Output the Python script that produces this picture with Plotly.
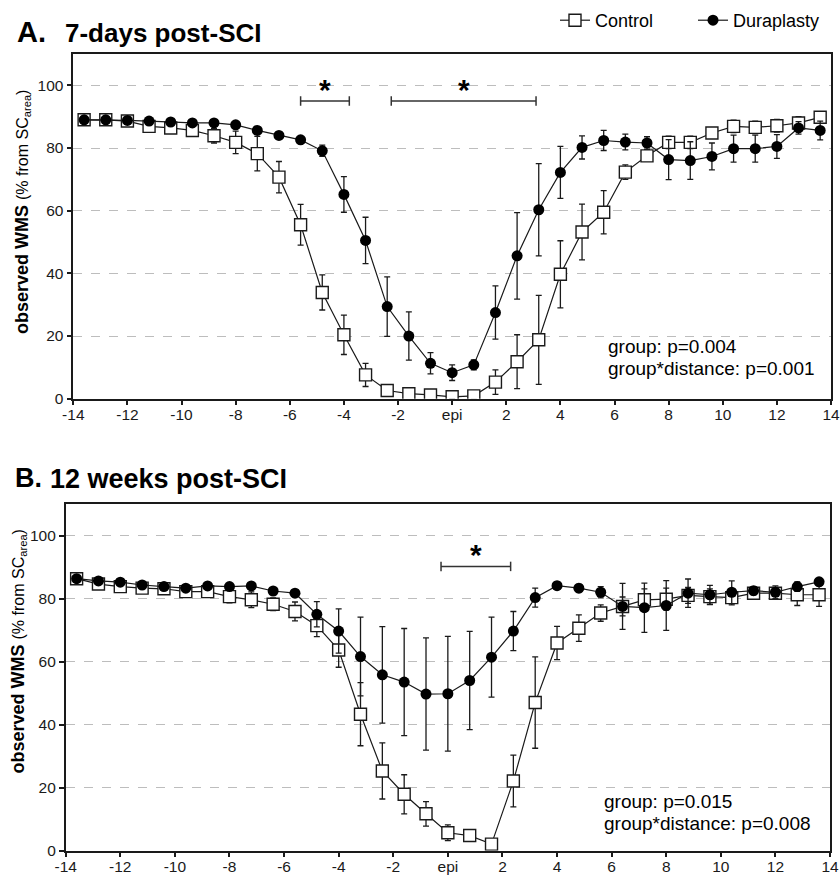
import plotly.graph_objects as go

# Distance from epicentre (mm) at which white matter sparing was measured
distance = [-13.6, -12.8, -12.0, -11.2, -10.4, -9.6, -8.8, -8.0, -7.2, -6.4, -5.6, -4.8,
            -4.0, -3.2, -2.4, -1.6, -0.8, 0.0, 0.8, 1.6, 2.4, 3.2, 4.0, 4.8, 5.6, 6.4,
            7.2, 8.0, 8.8, 9.6, 10.4, 11.2, 12.0, 12.8, 13.6]

x_tickvals = [-14, -12, -10, -8, -6, -4, -2, 0, 2, 4, 6, 8, 10, 12, 14]
x_ticktext = ["-14", "-12", "-10", "-8", "-6", "-4", "-2", "epi", "2", "4", "6", "8", "10", "12", "14"]
y_tickvals = [0, 20, 40, 60, 80, 100]

# 7 days post-SCI: mean and SEM
ctrl_7d = [89.0, 89.0, 88.6, 86.9, 86.4, 85.6, 83.9, 81.8, 78.2, 70.7, 55.5, 33.9,
           20.4, 7.6, 2.6, 1.6, 1.2, 0.6, 0.9, 5.3, 11.8, 18.8, 39.7, 53.2, 59.5, 72.3,
           77.5, 81.8, 81.8, 84.8, 86.9, 86.6, 87.1, 88.0, 89.8]
ctrl_7d_sem = [0.8, 0.8, 0.8, 1.0, 1.0, 1.2, 2.3, 3.6, 5.5, 5.0, 6.5, 5.6,
               6.3, 3.7, 1.0, 0.8, 0.6, 0.5, 0.6, 3.9, 8.6, 14.2, 10.7, 8.9, 6.9, 2.3,
               1.2, 2.0, 2.0, 1.5, 2.0, 2.0, 2.0, 2.0, 1.2]
dura_7d = [89.0, 89.0, 88.8, 88.6, 88.3, 88.0, 88.0, 87.4, 85.6, 84.0, 82.6, 79.1,
           65.2, 50.5, 29.4, 20.0, 11.3, 8.3, 10.8, 27.5, 45.6, 60.3, 72.2, 80.2, 82.4, 81.9,
           81.6, 76.3, 76.0, 77.3, 79.8, 79.8, 80.5, 86.4, 85.6]
dura_7d_sem = [0.8, 0.8, 0.8, 0.8, 0.8, 0.8, 0.8, 1.0, 1.0, 1.0, 1.0, 1.8,
               5.7, 7.4, 9.5, 7.7, 3.4, 2.5, 1.6, 8.5, 13.8, 14.7, 8.3, 3.7, 3.2, 2.5,
               2.0, 6.4, 6.0, 4.3, 4.3, 4.3, 3.8, 2.0, 3.0]

# 12 weeks post-SCI: mean and SEM
ctrl_12w = [86.3, 84.6, 83.8, 83.3, 83.1, 82.2, 82.2, 80.6, 79.6, 78.2, 75.9, 71.4,
            63.7, 43.3, 25.3, 17.9, 11.7, 5.7, 4.8, 2.1, 22.1, 47.0, 65.9, 70.6, 75.4, 77.5,
            79.6, 79.8, 81.0, 80.6, 80.3, 81.7, 81.7, 81.2, 81.2]
ctrl_12w_sem = [1.0, 1.0, 1.0, 1.0, 1.0, 1.2, 1.2, 2.0, 2.5, 2.0, 3.0, 3.5,
                5.5, 10.0, 8.9, 6.2, 3.9, 2.5, 1.5, 0.6, 8.2, 14.5, 5.3, 4.2, 2.6, 3.0,
                3.5, 3.5, 2.5, 2.5, 2.3, 1.5, 1.5, 3.4, 3.7]
dura_12w = [86.3, 85.6, 85.2, 84.3, 83.8, 83.3, 84.0, 83.8, 84.0, 82.4, 81.7, 75.0,
            69.7, 61.6, 55.8, 53.5, 49.7, 49.8, 54.0, 61.4, 69.7, 80.3, 84.1, 83.3, 82.0, 77.5,
            77.1, 77.8, 81.7, 81.2, 82.0, 82.5, 82.0, 83.8, 85.3]
dura_12w_sem = [0.8, 0.8, 0.8, 0.8, 0.8, 0.8, 0.8, 0.8, 0.8, 1.0, 1.0, 4.0,
                7.0, 12.5, 15.3, 17.0, 17.8, 18.2, 15.6, 12.7, 6.2, 3.0, 1.2, 1.2, 1.8, 7.3,
                7.8, 7.9, 4.5, 3.0, 3.6, 1.3, 2.0, 1.5, 1.0]

# Significance brackets: (start, end, height)
sig_7d = [(-5.6, -3.8, 95.0), (-2.25, 3.1, 95.0)]
sig_12w = [(-0.25, 2.3, 90.2)]

stats_7d = ["group: p=0.004", "group*distance: p=0.001"]
stats_12w = ["group: p=0.015", "group*distance: p=0.008"]

W, H = 840, 877
FONT = "Liberation Sans, Arial, Helvetica, sans-serif"
INK = "#1a1a1a"


def px(x):
    return x / W


def py(y):
    return 1 - y / H


fig = go.Figure()

panels = [
    ("x", "y", ctrl_7d, ctrl_7d_sem, dura_7d, dura_7d_sem, True),
    ("x2", "y2", ctrl_12w, ctrl_12w_sem, dura_12w, dura_12w_sem, False),
]

for xa, ya, c, cs, d, ds, show in panels:
    fig.add_trace(go.Scatter(
        x=distance, y=c, xaxis=xa, yaxis=ya, name="Control", showlegend=show,
        mode="lines+markers",
        line=dict(color=INK, width=1.2),
        marker=dict(symbol="square", size=12, color="white", line=dict(color=INK, width=1.4)),
        error_y=dict(type="data", array=cs, color=INK, thickness=1.3, width=3),
    ))
    fig.add_trace(go.Scatter(
        x=distance, y=d, xaxis=xa, yaxis=ya, name="Duraplasty", showlegend=show,
        mode="lines+markers",
        line=dict(color=INK, width=1.2),
        marker=dict(symbol="circle", size=11, color="black", line=dict(color="black", width=0)),
        error_y=dict(type="data", array=ds, color=INK, thickness=1.3, width=3),
    ))

axis_common = dict(
    showline=True, linecolor=INK, linewidth=1.5, mirror=True,
    ticks="outside", ticklen=5, tickwidth=1.5, tickcolor=INK,
    tickfont=dict(family=FONT, size=15.5, color=INK),
    zeroline=False, automargin=False,
)

xaxis_common = dict(axis_common, range=[-14, 14], tickvals=x_tickvals, ticktext=x_ticktext,
                    showgrid=False, ticklabelstandoff=-4)
yaxis_common = dict(axis_common, range=[0, 110], tickvals=y_tickvals,
                    showgrid=True, gridcolor="#bdbdbd", gridwidth=1, griddash="dash")

fig.update_layout(
    xaxis=dict(xaxis_common, domain=[px(73.3), px(831)], anchor="y"),
    yaxis=dict(yaxis_common, domain=[py(398.7), py(54)], anchor="x"),
    xaxis2=dict(xaxis_common, domain=[px(65.7), px(830)], anchor="y2"),
    yaxis2=dict(yaxis_common, domain=[py(850.7), py(504)], anchor="x2"),
)

shapes = []
annotations = []

# significance brackets with end caps and asterisk
for xa, ya, sigs in [("x", "y", sig_7d), ("x2", "y2", sig_12w)]:
    for x0, x1, yv in sigs:
        style = dict(type="line", xref=xa, yref=ya, line=dict(color="#333", width=1.5))
        shapes.append(dict(style, x0=x0, x1=x1, y0=yv, y1=yv))
        shapes.append(dict(style, x0=x0, x1=x0, y0=yv - 1.5, y1=yv + 1.5))
        shapes.append(dict(style, x0=x1, x1=x1, y0=yv - 1.5, y1=yv + 1.5))
        annotations.append(dict(
            x=(x0 + x1) / 2, y=yv, xref=xa, yref=ya, text="<b>*</b>", showarrow=False,
            xanchor="center", yanchor="bottom", yshift=-7,
            font=dict(family=FONT, size=30, color="black"),
        ))

# panel titles
for label, lx, text, tx, cy, lsize, tsize in [
    ("A.", 15, "7-days post-SCI", 63, 32, 29, 26),
    ("B.", 13.3, "12 weeks post-SCI", 47.7, 478, 27, 27),
]:
    annotations.append(dict(x=px(lx), y=py(cy), xref="paper", yref="paper", text=f"<b>{label}</b>",
                            showarrow=False, xanchor="left", yanchor="middle",
                            font=dict(family=FONT, size=lsize, color="black")))
    annotations.append(dict(x=px(tx), y=py(cy + 1), xref="paper", yref="paper", text=f"<b>{text}</b>",
                            showarrow=False, xanchor="left", yanchor="middle",
                            font=dict(family=FONT, size=tsize, color="black")))

# y-axis titles
ytitle = "<b>observed WMS</b> <span style='font-size:16px'>(% from SC<sub>area</sub>)</span>"
for cx, cy in [(22, 212), (17.5, 652)]:
    annotations.append(dict(x=px(cx), y=py(cy), xref="paper", yref="paper", text=ytitle,
                            textangle=-90, showarrow=False, xanchor="center", yanchor="middle",
                            font=dict(family=FONT, size=18, color="black")))

# statistics text
for lines, lx, ys in [(stats_7d, 605.7, (346.7, 368.3)), (stats_12w, 602.3, (801.7, 823.3))]:
    for t, yy in zip(lines, ys):
        annotations.append(dict(x=px(lx), y=py(yy), xref="paper", yref="paper", text=t,
                                showarrow=False, xanchor="left", yanchor="middle",
                                font=dict(family=FONT, size=19, color="black")))

fig.update_layout(
    width=W, height=H, autosize=False,
    margin=dict(l=0, r=0, t=0, b=0),
    paper_bgcolor="white", plot_bgcolor="white",
    shapes=shapes, annotations=annotations,
    legend=dict(orientation="h", x=px(555), xanchor="left", y=py(2), yanchor="top",
                font=dict(family=FONT, size=18, color="black"),
                entrywidth=93, entrywidthmode="pixels", bgcolor="rgba(0,0,0,0)",
                traceorder="normal"),
)

fig.write_html("out.html")
